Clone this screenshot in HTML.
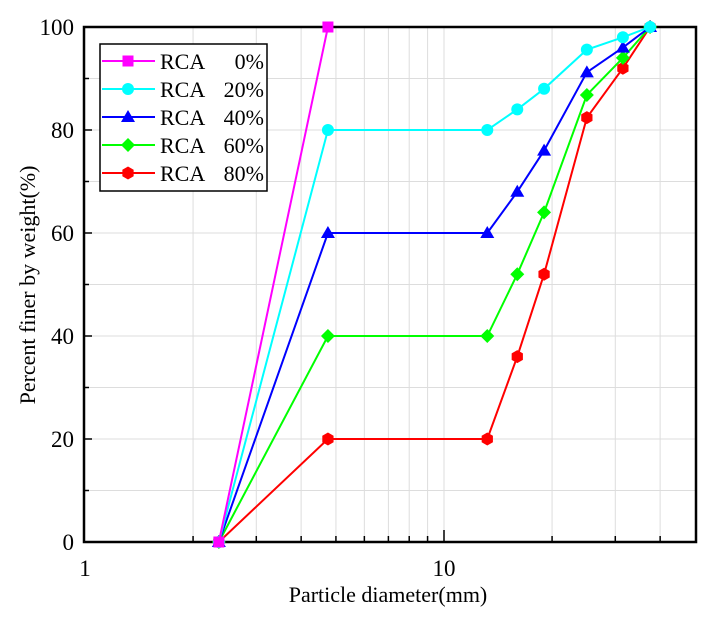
<!DOCTYPE html>
<html><head><meta charset="utf-8"><style>
body{margin:0;background:#fff}
svg{display:block;font-family:"Liberation Serif",serif}
</style></head><body>
<svg id="c" width="716" height="619"></svg>
<script>
const sizes=[2.36,4.75,13.2,16,19,25,31.5,37.5];
const rca0=[0,100];
const rca20=[0,80,80,84,88,95.6,98,100];
const rca40=[0,60,60,68,76,91.2,96,100];
const rca60=[0,40,40,52,64,86.8,94,100];
const rca80=[0,20,20,36,52,82.4,92,100];
const seriesNames=["RCA    0%","RCA  20%","RCA  40%","RCA  60%","RCA  80%"];
const yTicks=[0,20,40,60,80,100];
const xTickLabels=[1,10];

const L=84,R=696,T=27,B=542;
const xs=v=>85+Math.log10(v)*359;
const ys=v=>B-(v/100)*(B-T);
const svg=document.getElementById('c');
const NS='http://www.w3.org/2000/svg';
function mk(t,a,p){const e=document.createElementNS(NS,t);for(const k in a)e.setAttribute(k,a[k]);(p||svg).appendChild(e);return e;}

const grid=mk('g',{});


for(let v=10;v<100;v+=10){mk('line',{x1:L,x2:R,y1:ys(v),y2:ys(v),stroke:'#ddd','stroke-width':1},grid);}
const minor=[2,3,4,5,6,7,8,9,20,30,40];
minor.forEach(v=>mk('line',{x1:xs(v),x2:xs(v),y1:T,y2:B,stroke:'#ddd','stroke-width':1},grid));
mk('line',{x1:xs(10),x2:xs(10),y1:T,y2:B,stroke:'#ddd','stroke-width':1},grid);

const ax=mk('g',{});


for(let v=0;v<=100;v+=10){const len=v%20===0?8:5;mk('line',{x1:L,x2:L+len,y1:ys(v),y2:ys(v),stroke:'#000','stroke-width':1.5},ax);}
minor.forEach(v=>mk('line',{x1:xs(v),x2:xs(v),y1:B,y2:B-6,stroke:'#000','stroke-width':1.5},ax));
mk('line',{x1:xs(10),x2:xs(10),y1:B,y2:B-12,stroke:'#000','stroke-width':1.5},ax);
yTicks.forEach(v=>{const t=mk('text',{x:L-10,y:ys(v)+8,'text-anchor':'end','font-size':23},ax);t.textContent=v;

});
xTickLabels.forEach(v=>{const t=mk('text',{x:xs(v),y:B+34,'text-anchor':'middle','font-size':23},ax);t.textContent=v;

});

const colors=['#ff00ff','#00ffff','#0000ff','#00ff00','#ff0000'];
const data=[rca0,rca20,rca40,rca60,rca80];
function marker(i,x,y,g){
  const c=colors[i];
  if(i===0)mk('rect',{x:x-5.5,y:y-5.5,width:11,height:11,fill:c},g);
  else if(i===1)mk('circle',{cx:x,cy:y,r:6,fill:c},g);
  else if(i===2)mk('polygon',{points:`${x},${y-7} ${x+7},${y+5} ${x-7},${y+5}`,fill:c},g);
  else if(i===3)mk('polygon',{points:`${x},${y-7} ${x+7},${y} ${x},${y+7} ${x-7},${y}`,fill:c},g);
  else {let p=[];for(let k=0;k<6;k++){const a=Math.PI/6+k*Math.PI/3;p.push((x+6.5*Math.cos(a))+','+(y+6.5*Math.sin(a)));}mk('polygon',{points:p.join(' '),fill:c},g);}
}
for(let i=data.length-1;i>=0;i--){
  const g=mk('g',{});
  
  
  const d=data[i];
  const pts=d.map((v,j)=>xs(sizes[j])+','+ys(v)).join(' ');
  mk('polyline',{points:pts,fill:'none',stroke:colors[i],'stroke-width':2},g);
  d.forEach((v,j)=>marker(i,xs(sizes[j]),ys(v),g));
}

mk('rect',{x:L,y:T,width:R-L,height:B-T,fill:'none',stroke:'#000','stroke-width':2.5},ax);

const xt=mk('text',{x:388,y:602,'text-anchor':'middle','font-size':22});xt.textContent='Particle diameter(mm)';


const yt=mk('text',{x:0,y:0,'text-anchor':'middle','font-size':22,transform:'translate(35,285) rotate(-90)'});yt.textContent='Percent finer by weight(%)';



const lg=mk('g',{});


mk('rect',{x:100,y:44,width:167,height:147,fill:'#fff',stroke:'#000','stroke-width':1.5},lg);
const pcts=['0%','20%','40%','60%','80%'];
for(let i=0;i<5;i++){
  const e=mk('g',{},lg);
  
  
  const y=61+i*28;
  mk('line',{x1:102,x2:155,y1:y,y2:y,stroke:colors[i],'stroke-width':2},e);
  marker(i,128,y,e);
  const t=mk('text',{x:160,y:y+8,'font-size':22},e);t.textContent='RCA';
  const p=mk('text',{x:264,y:y+8,'font-size':22,'text-anchor':'end'},e);p.textContent=pcts[i];
}
</script>
</body></html>
